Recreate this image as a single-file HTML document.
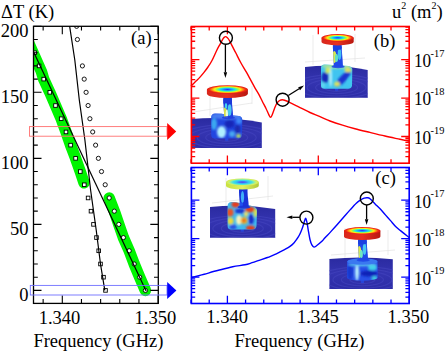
<!DOCTYPE html>
<html><head><meta charset="utf-8"><style>
html,body{margin:0;padding:0;background:#fff;width:446px;height:351px;overflow:hidden}
svg{display:block}
text{font-family:"Liberation Serif",serif;fill:#000}
</style></head><body>
<svg width="446" height="351" viewBox="0 0 446 351" font-family='"Liberation Serif", serif'><defs><radialGradient id="dRed" cx="0.5" cy="0.5" r="0.5"><stop offset="0" stop-color="#2a2aff"/><stop offset="0.22" stop-color="#1a9cff"/><stop offset="0.38" stop-color="#20e8e0"/><stop offset="0.52" stop-color="#90ff50"/><stop offset="0.64" stop-color="#ffee10"/><stop offset="0.76" stop-color="#ff8c10"/><stop offset="0.88" stop-color="#f02a14"/><stop offset="1" stop-color="#e01a14"/></radialGradient><radialGradient id="dYel" cx="0.5" cy="0.5" r="0.5"><stop offset="0" stop-color="#5444f0"/><stop offset="0.2" stop-color="#4474f8"/><stop offset="0.38" stop-color="#30c4f4"/><stop offset="0.58" stop-color="#44e2e0"/><stop offset="0.74" stop-color="#98f09c"/><stop offset="0.86" stop-color="#d4f060"/><stop offset="1" stop-color="#d0e44c"/></radialGradient><linearGradient id="rimRed" x1="0" y1="0" x2="1" y2="0"><stop offset="0" stop-color="#d8281c"/><stop offset="0.5" stop-color="#e83020"/><stop offset="1" stop-color="#b81810"/></linearGradient><linearGradient id="rimYel" x1="0" y1="0" x2="1" y2="0"><stop offset="0" stop-color="#c8e040"/><stop offset="0.5" stop-color="#e0f060"/><stop offset="1" stop-color="#b0c838"/></linearGradient><linearGradient id="gnd" x1="0" y1="0" x2="0" y2="1"><stop offset="0" stop-color="#2a2aa0"/><stop offset="0.5" stop-color="#3434b0"/><stop offset="1" stop-color="#2c2ca6"/></linearGradient><linearGradient id="stemA" x1="0" y1="0" x2="1" y2="0"><stop offset="0" stop-color="#1830d8"/><stop offset="0.45" stop-color="#40d8f0"/><stop offset="0.7" stop-color="#e8e840"/><stop offset="1" stop-color="#1a40e0"/></linearGradient><linearGradient id="stemB" x1="0" y1="0" x2="1" y2="0"><stop offset="0" stop-color="#1428c8"/><stop offset="0.5" stop-color="#2a70f8"/><stop offset="0.8" stop-color="#40c0ff"/><stop offset="1" stop-color="#1430d0"/></linearGradient><linearGradient id="baseA" x1="0" y1="0" x2="1" y2="1"><stop offset="0" stop-color="#2a50e8"/><stop offset="0.35" stop-color="#50c8f8"/><stop offset="0.55" stop-color="#2040d8"/><stop offset="0.8" stop-color="#60d0f0"/><stop offset="1" stop-color="#2038c8"/></linearGradient><linearGradient id="baseB" x1="0" y1="0" x2="1" y2="0.6"><stop offset="0" stop-color="#30a0f0"/><stop offset="0.3" stop-color="#2040d0"/><stop offset="0.5" stop-color="#70e0e0"/><stop offset="0.7" stop-color="#e0e050"/><stop offset="0.85" stop-color="#3050e0"/><stop offset="1" stop-color="#50c0f0"/></linearGradient><linearGradient id="baseC" x1="0" y1="0" x2="1" y2="0.4"><stop offset="0" stop-color="#e04020"/><stop offset="0.2" stop-color="#f0e040"/><stop offset="0.4" stop-color="#40a0f0"/><stop offset="0.55" stop-color="#f0d040"/><stop offset="0.7" stop-color="#2040e0"/><stop offset="0.85" stop-color="#e05020"/><stop offset="1" stop-color="#40c0f0"/></linearGradient><linearGradient id="baseD" x1="0" y1="0" x2="1" y2="0"><stop offset="0" stop-color="#1a30c8"/><stop offset="0.2" stop-color="#2050e8"/><stop offset="0.33" stop-color="#a0f0ff"/><stop offset="0.45" stop-color="#2860f0"/><stop offset="0.75" stop-color="#1838d8"/><stop offset="1" stop-color="#2a50d0"/></linearGradient><filter id="blr" x="-50%" y="-50%" width="200%" height="200%"><feGaussianBlur stdDeviation="1.2"/></filter><filter id="blr2" x="-50%" y="-50%" width="200%" height="200%"><feGaussianBlur stdDeviation="0.6"/></filter><clipPath id="ig1"><path d="M191.5,119.0 Q226.7,115.8 261.8,122.5 L261.8,148.0 L191.5,148.0 Z"/></clipPath><clipPath id="ib2"><path d="M211.2,117 Q211.5,113.5 215,113.5 L222,113.8 Q227,116.2 233,115.6 L239,116 Q242.3,116.5 242.3,120 L242,135 Q241.5,138.6 238,138.6 L215,138.6 Q211.2,138.6 211.2,135 Z"/></clipPath><clipPath id="is3"><path d="M223.4,97.0 C222.9,105.4 224.6,111.7 223.9,118.0 L233.0,118.0 C233.5,111.7 231.5,105.4 232.0,97.0 Z"/></clipPath><clipPath id="ig4"><path d="M305.0,67.0 Q336.4,63.5 367.7,70.0 L367.7,97.7 L305.0,97.7 Z"/></clipPath><clipPath id="ib5"><path d="M321,67.5 Q321.2,64.5 324.5,64.5 L348.5,66 Q352.3,66.5 352.3,69.5 L352,85.5 Q351.5,88.8 348,88.8 L324.5,88.8 Q321,88.8 321,85.5 Z"/></clipPath><clipPath id="is6"><path d="M333.0,43.5 C332.5,52.9 334.2,60.0 333.5,67.0 L342.8,67.0 C343.3,60.0 341.3,52.9 341.8,43.5 Z"/></clipPath><clipPath id="ig7"><path d="M210.0,207.0 Q242.6,203.6 275.2,209.0 L275.2,237.8 L210.0,237.8 Z"/></clipPath><clipPath id="ib8"><path d="M227.6,205.5 Q228,202 231.5,202 L236,202.2 Q244,203.5 252,206 Q257,207.2 257,210.5 L256.5,226 Q256,229.6 252,229.6 L231.5,229.6 Q227.6,229.6 227.6,226 Z"/></clipPath><clipPath id="is9"><path d="M239.1,189.0 C238.6,196.4 240.3,201.9 239.6,207.5 L248.6,207.5 C249.1,201.9 247.1,196.4 247.6,189.0 Z"/></clipPath><clipPath id="ig10"><path d="M329.4,259.0 Q361.1,255.7 392.8,259.2 L392.8,289.0 L329.4,289.0 Z"/></clipPath><clipPath id="ib11"><path d="M347.1,261.5 L347.1,277.6 A15.2,3.2 0 0 0 377.6,277.6 L377.6,261.5 A15.2,3.2 0 0 0 347.1,261.5 Z"/></clipPath><clipPath id="is12"><path d="M358.1,239.0 C357.6,247.6 359.3,254.1 358.6,260.5 L367.9,260.5 C368.4,254.1 366.4,247.6 366.9,239.0 Z"/></clipPath></defs><clipPath id="clipA"><rect x="33.50" y="26.30" width="124.80" height="277.10"/></clipPath><g clip-path="url(#clipA)"><polyline points="15.5,13.5 41.4,71.5 43.7,79.1 49.8,92.3 55.5,105.5 61.2,118.7 66.0,131.9 70.6,145.1 75.6,158.3 80.3,171.6 84.0,182.8" fill="none" stroke="#00f400" stroke-width="11.5" stroke-linecap="round" stroke-linejoin="round"/><polyline points="109.2,198.0 114.3,211.2 118.8,224.4 123.4,237.6 129.2,250.8 134.2,264.0 139.7,277.2 145.4,290.4" fill="none" stroke="#00f400" stroke-width="11.5" stroke-linecap="round" stroke-linejoin="round"/><rect x="32.80" y="50.91" width="3.6" height="3.6" fill="#fff" stroke="#000" stroke-width="0.9"/><rect x="37.30" y="64.11" width="3.6" height="3.6" fill="#fff" stroke="#000" stroke-width="0.9"/><rect x="41.90" y="77.32" width="3.6" height="3.6" fill="#fff" stroke="#000" stroke-width="0.9"/><rect x="48.00" y="90.52" width="3.6" height="3.6" fill="#fff" stroke="#000" stroke-width="0.9"/><rect x="53.70" y="103.73" width="3.6" height="3.6" fill="#fff" stroke="#000" stroke-width="0.9"/><rect x="59.40" y="116.93" width="3.6" height="3.6" fill="#fff" stroke="#000" stroke-width="0.9"/><rect x="64.20" y="130.14" width="3.6" height="3.6" fill="#fff" stroke="#000" stroke-width="0.9"/><rect x="68.80" y="143.34" width="3.6" height="3.6" fill="#fff" stroke="#000" stroke-width="0.9"/><rect x="73.80" y="156.55" width="3.6" height="3.6" fill="#fff" stroke="#000" stroke-width="0.9"/><rect x="78.50" y="169.75" width="3.6" height="3.6" fill="#fff" stroke="#000" stroke-width="0.9"/><rect x="82.50" y="182.96" width="3.6" height="3.6" fill="#fff" stroke="#000" stroke-width="0.9"/><rect x="86.30" y="196.16" width="3.6" height="3.6" fill="#fff" stroke="#000" stroke-width="0.9"/><rect x="89.20" y="209.37" width="3.6" height="3.6" fill="#fff" stroke="#000" stroke-width="0.9"/><rect x="91.70" y="222.57" width="3.6" height="3.6" fill="#fff" stroke="#000" stroke-width="0.9"/><rect x="94.70" y="235.78" width="3.6" height="3.6" fill="#fff" stroke="#000" stroke-width="0.9"/><rect x="96.90" y="248.98" width="3.6" height="3.6" fill="#fff" stroke="#000" stroke-width="0.9"/><rect x="98.70" y="262.19" width="3.6" height="3.6" fill="#fff" stroke="#000" stroke-width="0.9"/><rect x="101.70" y="275.39" width="3.6" height="3.6" fill="#fff" stroke="#000" stroke-width="0.9"/><rect x="103.70" y="288.60" width="3.6" height="3.6" fill="#fff" stroke="#000" stroke-width="0.9"/><circle cx="76.60" cy="26.30" r="2.1" fill="#fff" stroke="#000" stroke-width="0.9"/><circle cx="77.40" cy="39.50" r="2.1" fill="#fff" stroke="#000" stroke-width="0.9"/><circle cx="82.40" cy="65.91" r="2.1" fill="#fff" stroke="#000" stroke-width="0.9"/><circle cx="84.20" cy="79.12" r="2.1" fill="#fff" stroke="#000" stroke-width="0.9"/><circle cx="86.10" cy="92.32" r="2.1" fill="#fff" stroke="#000" stroke-width="0.9"/><circle cx="88.10" cy="105.53" r="2.1" fill="#fff" stroke="#000" stroke-width="0.9"/><circle cx="89.90" cy="118.73" r="2.1" fill="#fff" stroke="#000" stroke-width="0.9"/><circle cx="92.70" cy="131.94" r="2.1" fill="#fff" stroke="#000" stroke-width="0.9"/><circle cx="95.60" cy="145.14" r="2.1" fill="#fff" stroke="#000" stroke-width="0.9"/><circle cx="98.40" cy="158.35" r="2.1" fill="#fff" stroke="#000" stroke-width="0.9"/><circle cx="101.50" cy="171.55" r="2.1" fill="#fff" stroke="#000" stroke-width="0.9"/><circle cx="105.20" cy="184.76" r="2.1" fill="#fff" stroke="#000" stroke-width="0.9"/><circle cx="109.20" cy="197.96" r="2.1" fill="#fff" stroke="#000" stroke-width="0.9"/><circle cx="114.30" cy="211.17" r="2.1" fill="#fff" stroke="#000" stroke-width="0.9"/><circle cx="118.80" cy="224.37" r="2.1" fill="#fff" stroke="#000" stroke-width="0.9"/><circle cx="123.40" cy="237.58" r="2.1" fill="#fff" stroke="#000" stroke-width="0.9"/><circle cx="129.20" cy="250.78" r="2.1" fill="#fff" stroke="#000" stroke-width="0.9"/><circle cx="134.20" cy="263.99" r="2.1" fill="#fff" stroke="#000" stroke-width="0.9"/><circle cx="139.70" cy="277.19" r="2.1" fill="#fff" stroke="#000" stroke-width="0.9"/><circle cx="145.40" cy="290.40" r="2.1" fill="#fff" stroke="#000" stroke-width="0.9"/><line x1="20" y1="23" x2="146.1" y2="291.1" stroke="#000" stroke-width="1.2"/><polyline points="69.3,24 74.8,60 79.3,100 84.9,140 90.6,190 96.2,230 100.5,264 104.8,290.4" fill="none" stroke="#000" stroke-width="1.2"/></g><path d="M33.50,290.40h8.0M158.30,290.40h-8.0M33.50,277.19h4.3M158.30,277.19h-4.3M33.50,263.99h4.3M158.30,263.99h-4.3M33.50,250.78h4.3M158.30,250.78h-4.3M33.50,237.58h4.3M158.30,237.58h-4.3M33.50,224.37h8.0M158.30,224.37h-8.0M33.50,211.17h4.3M158.30,211.17h-4.3M33.50,197.96h4.3M158.30,197.96h-4.3M33.50,184.76h4.3M158.30,184.76h-4.3M33.50,171.55h4.3M158.30,171.55h-4.3M33.50,158.35h8.0M158.30,158.35h-8.0M33.50,145.14h4.3M158.30,145.14h-4.3M33.50,131.94h4.3M158.30,131.94h-4.3M33.50,118.73h4.3M158.30,118.73h-4.3M33.50,105.53h4.3M158.30,105.53h-4.3M33.50,92.32h8.0M158.30,92.32h-8.0M33.50,79.12h4.3M158.30,79.12h-4.3M33.50,65.91h4.3M158.30,65.91h-4.3M33.50,52.71h4.3M158.30,52.71h-4.3M33.50,39.50h4.3M158.30,39.50h-4.3M33.50,26.30h8.0M158.30,26.30h-8.0M43.14,303.40v-4.3M43.14,26.30v4.3M62.30,303.40v-8.0M62.30,26.30v8.0M81.46,303.40v-4.3M81.46,26.30v4.3M100.62,303.40v-4.3M100.62,26.30v4.3M119.78,303.40v-4.3M119.78,26.30v4.3M138.94,303.40v-4.3M138.94,26.30v4.3M158.10,303.40v-8.0M158.10,26.30v8.0" stroke="#000" stroke-width="1.1" fill="none"/><rect x="33.50" y="26.30" width="124.80" height="277.10" fill="none" stroke="#000" stroke-width="1.3"/><rect x="29.5" y="126.6" width="137.5" height="9.6" fill="none" stroke="#ff7070" stroke-width="0.9"/><rect x="30.3" y="285.4" width="136.7" height="9.6" fill="none" stroke="#7070ff" stroke-width="0.9"/><polygon points="167.2,123 167.2,140 176.2,131.5" fill="#f00"/><polygon points="167.2,282 167.2,299 176.4,290.5" fill="#00f"/><text x="1" y="17.6" font-size="18.5">&#916;T (K)</text><text x="28.6" y="36.70" font-size="18.5" text-anchor="end">200</text><text x="28.6" y="102.72" font-size="18.5" text-anchor="end">150</text><text x="28.6" y="168.75" font-size="18.5" text-anchor="end">100</text><text x="28.6" y="234.77" font-size="18.5" text-anchor="end">50</text><text x="28.6" y="300.80" font-size="18.5" text-anchor="end">0</text><text x="59.5" y="323.8" font-size="18.5" text-anchor="middle">1.340</text><text x="155.4" y="323.8" font-size="18.5" text-anchor="middle">1.350</text><text x="98.4" y="346.8" font-size="18.5" text-anchor="middle">Frequency (GHz)</text><text x="141.3" y="44.4" font-size="18.5" text-anchor="middle">(a)</text><g stroke="#e2e2e2" stroke-width="0.7" fill="none"><path d="M193,112 L252,103 M210,86 L210,116 M252,86 L252,104"/><path d="M305,62 L365,58 M313,35 L313,65 M355,34 L355,62"/><path d="M212,203 L273,196 M226,178 L226,206 M268,176 L268,200"/><path d="M331,255 L395,250 M345,228 L345,258 M388,230 L388,255"/></g><path d="M191.5,119.0 Q226.7,115.8 261.8,122.5 L261.8,148.0 L191.5,148.0 Z" fill="url(#gnd)"/><g clip-path="url(#ig1)"><ellipse cx="226.7" cy="137.6" rx="12.5" ry="3.8" fill="none" stroke="#4646c0" stroke-width="1.2" opacity="0.55"/><ellipse cx="226.7" cy="137.6" rx="21.0" ry="6.1" fill="none" stroke="#4646c0" stroke-width="1.2" opacity="0.55"/><ellipse cx="226.7" cy="137.6" rx="29.5" ry="8.4" fill="none" stroke="#4646c0" stroke-width="1.2" opacity="0.55"/><ellipse cx="226.7" cy="137.6" rx="38.0" ry="10.7" fill="none" stroke="#4646c0" stroke-width="1.2" opacity="0.55"/><ellipse cx="226.7" cy="137.6" rx="46.5" ry="13.0" fill="none" stroke="#4646c0" stroke-width="1.2" opacity="0.55"/></g><rect x="225.1" y="137.8" width="3.2" height="3" fill="#2844d8"/><g clip-path="url(#ib2)"><rect x="210.2" y="112.5" width="33.0" height="27.1" fill="#2246e0"/><g filter="url(#blr)"><ellipse cx="226.5" cy="116.0" rx="16.0" ry="3.2" fill="#4a7ef0"/><ellipse cx="214.0" cy="124.0" rx="3.0" ry="6.0" fill="#3aa8f0"/><ellipse cx="221.5" cy="132.0" rx="4.5" ry="6.0" fill="#b0f0ff"/><ellipse cx="229.5" cy="124.0" rx="5.0" ry="4.0" fill="#1628b8"/><ellipse cx="237.5" cy="129.0" rx="3.0" ry="4.0" fill="#1a2cb0"/><ellipse cx="239.0" cy="121.0" rx="3.0" ry="3.0" fill="#3c88f8"/><ellipse cx="238.5" cy="136.0" rx="2.5" ry="2.0" fill="#b8e060"/><ellipse cx="232.0" cy="134.0" rx="3.0" ry="3.0" fill="#4aa8f0"/></g></g><g clip-path="url(#is3)"><rect x="221.4" y="96.0" width="13.6" height="23.0" fill="#2040e0"/><g filter="url(#blr2)"><ellipse cx="224.6" cy="113.0" rx="2.6" ry="5.5" fill="#d8e048"/><ellipse cx="227.0" cy="114.0" rx="1.3" ry="4.5" fill="#e8ffd8"/><ellipse cx="229.6" cy="110.0" rx="2.0" ry="6.0" fill="#48c8f0"/><ellipse cx="227.5" cy="101.0" rx="6.0" ry="3.5" fill="#1a38d8"/><ellipse cx="226.0" cy="106.0" rx="1.2" ry="3.0" fill="#40d0f0"/></g></g><ellipse cx="228.4" cy="117.7" rx="6.5" ry="1.6" fill="#2040e0" opacity="0.9"/><path d="M206.9,89.5 L206.9,93.8 A20.5,4.3 0 0 0 247.9,93.8 L247.9,89.5 Z" fill="url(#rimRed)"/><ellipse cx="227.4" cy="89.5" rx="20.5" ry="4.3" fill="url(#dRed)"/><path d="M305.0,67.0 Q336.4,63.5 367.7,70.0 L367.7,97.7 L305.0,97.7 Z" fill="url(#gnd)"/><g clip-path="url(#ig4)"><ellipse cx="336.6" cy="87.6" rx="12.5" ry="3.8" fill="none" stroke="#4646c0" stroke-width="1.2" opacity="0.55"/><ellipse cx="336.6" cy="87.6" rx="21.0" ry="6.1" fill="none" stroke="#4646c0" stroke-width="1.2" opacity="0.55"/><ellipse cx="336.6" cy="87.6" rx="29.5" ry="8.4" fill="none" stroke="#4646c0" stroke-width="1.2" opacity="0.55"/><ellipse cx="336.6" cy="87.6" rx="38.0" ry="10.7" fill="none" stroke="#4646c0" stroke-width="1.2" opacity="0.55"/><ellipse cx="336.6" cy="87.6" rx="46.5" ry="13.0" fill="none" stroke="#4646c0" stroke-width="1.2" opacity="0.55"/></g><rect x="335.0" y="87.8" width="3.2" height="3" fill="#2844d8"/><g clip-path="url(#ib5)"><rect x="320.0" y="63.5" width="33.3" height="26.1" fill="#40c4f0"/><g filter="url(#blr)"><ellipse cx="336.5" cy="66.0" rx="15.0" ry="2.8" fill="#98e0a8"/><ellipse cx="325.0" cy="77.5" rx="3.6" ry="5.5" fill="#1426b8"/><ellipse cx="330.7" cy="77.0" rx="1.0" ry="10.0" fill="#d8fbff"/><ellipse cx="327.8" cy="70.5" rx="2.5" ry="3.0" fill="#d0e860"/><ellipse cx="343.2" cy="78.5" rx="3.3" ry="11.0" fill="#1a34d0" transform="rotate(42.0 343.2 78.5)"/><ellipse cx="348.0" cy="70.0" rx="3.5" ry="2.5" fill="#e0e060"/><ellipse cx="337.0" cy="84.0" rx="3.0" ry="2.5" fill="#d8e060"/><ellipse cx="323.0" cy="85.0" rx="2.0" ry="3.0" fill="#60d8f0"/><ellipse cx="350.5" cy="82.0" rx="2.0" ry="4.0" fill="#40c8f0"/></g></g><g clip-path="url(#is6)"><rect x="331.0" y="42.5" width="13.8" height="25.5" fill="#2048e8"/><g filter="url(#blr2)"><ellipse cx="334.3" cy="57.0" rx="2.2" ry="6.0" fill="#d8e850"/><ellipse cx="336.5" cy="58.0" rx="1.6" ry="4.0" fill="#60e0c0"/><ellipse cx="339.5" cy="54.0" rx="1.8" ry="6.0" fill="#40c0f0"/><ellipse cx="337.0" cy="47.5" rx="5.0" ry="2.5" fill="#1a40e0"/></g></g><ellipse cx="338.1" cy="66.7" rx="6.6" ry="1.6" fill="#2048e8" opacity="0.9"/><path d="M321.5,37.8 L321.5,41.7 A16.1,3.7 0 0 0 353.7,41.7 L353.7,37.8 Z" fill="url(#rimRed)"/><ellipse cx="337.6" cy="37.8" rx="16.1" ry="3.7" fill="url(#dRed)"/><path d="M210.0,207.0 Q242.6,203.6 275.2,209.0 L275.2,237.8 L210.0,237.8 Z" fill="url(#gnd)"/><g clip-path="url(#ig7)"><ellipse cx="242.3" cy="228.5" rx="12.5" ry="3.8" fill="none" stroke="#4646c0" stroke-width="1.2" opacity="0.55"/><ellipse cx="242.3" cy="228.5" rx="21.0" ry="6.1" fill="none" stroke="#4646c0" stroke-width="1.2" opacity="0.55"/><ellipse cx="242.3" cy="228.5" rx="29.5" ry="8.4" fill="none" stroke="#4646c0" stroke-width="1.2" opacity="0.55"/><ellipse cx="242.3" cy="228.5" rx="38.0" ry="10.7" fill="none" stroke="#4646c0" stroke-width="1.2" opacity="0.55"/><ellipse cx="242.3" cy="228.5" rx="46.5" ry="13.0" fill="none" stroke="#4646c0" stroke-width="1.2" opacity="0.55"/></g><rect x="240.7" y="228.7" width="3.2" height="3" fill="#2844d8"/><g clip-path="url(#ib8)"><rect x="226.7" y="201.5" width="31.2" height="29.0" fill="#40b8ee"/><g filter="url(#blr)"><ellipse cx="235.5" cy="204.5" rx="4.0" ry="3.0" fill="#e63a1c"/><ellipse cx="250.0" cy="209.5" rx="5.0" ry="3.0" fill="#e8401c"/><ellipse cx="230.0" cy="212.5" rx="3.5" ry="4.0" fill="#e85428"/><ellipse cx="230.5" cy="221.0" rx="3.0" ry="3.5" fill="#f0d838"/><ellipse cx="239.0" cy="220.0" rx="3.0" ry="5.0" fill="#f4f4c0"/><ellipse cx="244.0" cy="220.5" rx="3.5" ry="3.5" fill="#f0b028"/><ellipse cx="244.0" cy="220.5" rx="1.5" ry="1.5" fill="#e04020"/><ellipse cx="251.2" cy="219.2" rx="2.6" ry="5.0" fill="#1a2cc8"/><ellipse cx="250.5" cy="228.0" rx="4.5" ry="2.5" fill="#e43c1c"/><ellipse cx="240.0" cy="211.0" rx="5.0" ry="2.5" fill="#1838d0"/><ellipse cx="233.0" cy="227.0" rx="3.5" ry="2.5" fill="#2a50e0"/><ellipse cx="255.5" cy="213.0" rx="1.8" ry="4.0" fill="#e0e048"/><ellipse cx="246.0" cy="214.0" rx="2.0" ry="2.5" fill="#f0e060"/></g></g><g clip-path="url(#is9)"><rect x="237.1" y="188.0" width="13.5" height="20.5" fill="#1a34d8"/><g filter="url(#blr2)"><ellipse cx="242.5" cy="197.0" rx="1.6" ry="6.0" fill="#40b0f8"/><ellipse cx="241.0" cy="205.0" rx="2.0" ry="3.0" fill="#2050f0"/></g></g><ellipse cx="244.0" cy="207.2" rx="6.5" ry="1.6" fill="#1a34d8" opacity="0.9"/><path d="M226.0,182.2 L226.0,185.8 A16.4,3.8 0 0 0 258.8,185.8 L258.8,182.2 Z" fill="url(#rimYel)"/><ellipse cx="242.4" cy="182.2" rx="16.4" ry="3.8" fill="url(#dYel)"/><path d="M329.4,259.0 Q361.1,255.7 392.8,259.2 L392.8,289.0 L329.4,289.0 Z" fill="url(#gnd)"/><g clip-path="url(#ig10)"><ellipse cx="362.4" cy="279.8" rx="12.5" ry="3.8" fill="none" stroke="#4646c0" stroke-width="1.2" opacity="0.55"/><ellipse cx="362.4" cy="279.8" rx="21.0" ry="6.1" fill="none" stroke="#4646c0" stroke-width="1.2" opacity="0.55"/><ellipse cx="362.4" cy="279.8" rx="29.5" ry="8.4" fill="none" stroke="#4646c0" stroke-width="1.2" opacity="0.55"/><ellipse cx="362.4" cy="279.8" rx="38.0" ry="10.7" fill="none" stroke="#4646c0" stroke-width="1.2" opacity="0.55"/><ellipse cx="362.4" cy="279.8" rx="46.5" ry="13.0" fill="none" stroke="#4646c0" stroke-width="1.2" opacity="0.55"/></g><rect x="360.8" y="280.0" width="3.2" height="3" fill="#2844d8"/><g clip-path="url(#ib11)"><rect x="346.1" y="257.3" width="32.5" height="24.5" fill="#2850e8"/><g filter="url(#blr)"><ellipse cx="357.0" cy="272.0" rx="1.8" ry="9.0" fill="#c0f8ff"/><ellipse cx="369.0" cy="273.5" rx="9.0" ry="3.0" fill="#1020b8"/><ellipse cx="372.5" cy="267.5" rx="4.5" ry="3.0" fill="#40d0e8"/><ellipse cx="374.5" cy="278.5" rx="3.0" ry="2.5" fill="#40c8e0"/><ellipse cx="350.0" cy="272.0" rx="3.0" ry="8.0" fill="#1838d0"/><ellipse cx="362.3" cy="264.6" rx="14.5" ry="1.6" fill="#58c4f0"/></g><ellipse cx="362.4" cy="261.5" rx="15.2" ry="3.2" fill="#3a78f0"/></g><g clip-path="url(#is12)"><rect x="356.1" y="238.0" width="13.8" height="23.5" fill="#2048e8"/><g filter="url(#blr2)"><ellipse cx="359.3" cy="252.0" rx="2.0" ry="6.0" fill="#e0e850"/><ellipse cx="361.3" cy="254.0" rx="1.6" ry="4.0" fill="#70e8c0"/><ellipse cx="364.5" cy="249.0" rx="1.8" ry="6.0" fill="#48c8f0"/><ellipse cx="362.0" cy="242.0" rx="5.0" ry="2.5" fill="#1a40e0"/></g></g><ellipse cx="363.2" cy="260.2" rx="6.6" ry="1.6" fill="#2048e8" opacity="0.9"/><path d="M344.0,230.7 L344.0,236.5 A18.2,3.6 0 0 0 380.4,236.5 L380.4,230.7 Z" fill="url(#rimRed)"/><ellipse cx="362.2" cy="230.7" rx="18.2" ry="3.6" fill="url(#dRed)"/><path d="M191.04,163.20v-4.0M191.04,26.50v4.0M209.22,163.20v-4.0M209.22,26.50v4.0M227.40,163.20v-7.8M227.40,26.50v7.8M245.58,163.20v-4.0M245.58,26.50v4.0M263.76,163.20v-4.0M263.76,26.50v4.0M281.94,163.20v-4.0M281.94,26.50v4.0M300.12,163.20v-4.0M300.12,26.50v4.0M318.30,163.20v-7.8M318.30,26.50v7.8M336.48,163.20v-4.0M336.48,26.50v4.0M354.66,163.20v-4.0M354.66,26.50v4.0M372.84,163.20v-4.0M372.84,26.50v4.0M391.02,163.20v-4.0M391.02,26.50v4.0M409.20,163.20v-7.8M409.20,26.50v7.8M191.40,59.60h8.0M409.20,59.60h-8.0M191.40,48.03h3.8M409.20,48.03h-3.8M191.40,41.25h3.8M409.20,41.25h-3.8M191.40,36.45h3.8M409.20,36.45h-3.8M191.40,32.72h3.8M409.20,32.72h-3.8M191.40,29.68h3.8M409.20,29.68h-3.8M191.40,27.11h3.8M409.20,27.11h-3.8M191.40,98.05h8.0M409.20,98.05h-8.0M191.40,86.48h3.8M409.20,86.48h-3.8M191.40,79.70h3.8M409.20,79.70h-3.8M191.40,74.90h3.8M409.20,74.90h-3.8M191.40,71.17h3.8M409.20,71.17h-3.8M191.40,68.13h3.8M409.20,68.13h-3.8M191.40,65.56h3.8M409.20,65.56h-3.8M191.40,63.33h3.8M409.20,63.33h-3.8M191.40,61.36h3.8M409.20,61.36h-3.8M191.40,136.50h8.0M409.20,136.50h-8.0M191.40,124.93h3.8M409.20,124.93h-3.8M191.40,118.15h3.8M409.20,118.15h-3.8M191.40,113.35h3.8M409.20,113.35h-3.8M191.40,109.62h3.8M409.20,109.62h-3.8M191.40,106.58h3.8M409.20,106.58h-3.8M191.40,104.01h3.8M409.20,104.01h-3.8M191.40,101.78h3.8M409.20,101.78h-3.8M191.40,99.81h3.8M409.20,99.81h-3.8M191.40,156.60h3.8M409.20,156.60h-3.8M191.40,151.80h3.8M409.20,151.80h-3.8M191.40,148.07h3.8M409.20,148.07h-3.8M191.40,145.03h3.8M409.20,145.03h-3.8M191.40,142.46h3.8M409.20,142.46h-3.8M191.40,140.23h3.8M409.20,140.23h-3.8M191.40,138.26h3.8M409.20,138.26h-3.8" stroke="#ff0000" stroke-width="1.3" fill="none"/><rect x="191.40" y="26.50" width="217.80" height="136.70" fill="none" stroke="#ff0000" stroke-width="1.6"/><text transform="translate(413.9 67.00) scale(0.93 1)" font-size="18.5">10</text><text x="430.6" y="56.70" font-size="10.4">-17</text><text transform="translate(413.9 105.45) scale(0.93 1)" font-size="18.5">10</text><text x="430.6" y="95.15" font-size="10.4">-18</text><text transform="translate(413.9 143.90) scale(0.93 1)" font-size="18.5">10</text><text x="430.6" y="133.60" font-size="10.4">-19</text><path d="M191.04,303.50v-4.0M191.04,167.50v4.0M209.22,303.50v-4.0M209.22,167.50v4.0M227.40,303.50v-7.8M227.40,167.50v7.8M245.58,303.50v-4.0M245.58,167.50v4.0M263.76,303.50v-4.0M263.76,167.50v4.0M281.94,303.50v-4.0M281.94,167.50v4.0M300.12,303.50v-4.0M300.12,167.50v4.0M318.30,303.50v-7.8M318.30,167.50v7.8M336.48,303.50v-4.0M336.48,167.50v4.0M354.66,303.50v-4.0M354.66,167.50v4.0M372.84,303.50v-4.0M372.84,167.50v4.0M391.02,303.50v-4.0M391.02,167.50v4.0M409.20,303.50v-7.8M409.20,167.50v7.8M191.40,200.20h8.0M409.20,200.20h-8.0M191.40,188.63h3.8M409.20,188.63h-3.8M191.40,181.85h3.8M409.20,181.85h-3.8M191.40,177.05h3.8M409.20,177.05h-3.8M191.40,173.32h3.8M409.20,173.32h-3.8M191.40,170.28h3.8M409.20,170.28h-3.8M191.40,167.71h3.8M409.20,167.71h-3.8M191.40,238.65h8.0M409.20,238.65h-8.0M191.40,227.08h3.8M409.20,227.08h-3.8M191.40,220.30h3.8M409.20,220.30h-3.8M191.40,215.50h3.8M409.20,215.50h-3.8M191.40,211.77h3.8M409.20,211.77h-3.8M191.40,208.73h3.8M409.20,208.73h-3.8M191.40,206.16h3.8M409.20,206.16h-3.8M191.40,203.93h3.8M409.20,203.93h-3.8M191.40,201.96h3.8M409.20,201.96h-3.8M191.40,277.10h8.0M409.20,277.10h-8.0M191.40,265.53h3.8M409.20,265.53h-3.8M191.40,258.75h3.8M409.20,258.75h-3.8M191.40,253.95h3.8M409.20,253.95h-3.8M191.40,250.22h3.8M409.20,250.22h-3.8M191.40,247.18h3.8M409.20,247.18h-3.8M191.40,244.61h3.8M409.20,244.61h-3.8M191.40,242.38h3.8M409.20,242.38h-3.8M191.40,240.41h3.8M409.20,240.41h-3.8M191.40,297.20h3.8M409.20,297.20h-3.8M191.40,292.40h3.8M409.20,292.40h-3.8M191.40,288.67h3.8M409.20,288.67h-3.8M191.40,285.63h3.8M409.20,285.63h-3.8M191.40,283.06h3.8M409.20,283.06h-3.8M191.40,280.83h3.8M409.20,280.83h-3.8M191.40,278.86h3.8M409.20,278.86h-3.8" stroke="#0000ff" stroke-width="1.3" fill="none"/><rect x="191.40" y="167.50" width="217.80" height="136.00" fill="none" stroke="#0000ff" stroke-width="1.6"/><text transform="translate(413.9 207.60) scale(0.93 1)" font-size="18.5">10</text><text x="430.6" y="197.30" font-size="10.4">-17</text><text transform="translate(413.9 246.05) scale(0.93 1)" font-size="18.5">10</text><text x="430.6" y="235.75" font-size="10.4">-18</text><text transform="translate(413.9 284.50) scale(0.93 1)" font-size="18.5">10</text><text x="430.6" y="274.20" font-size="10.4">-19</text><path d="M191.00,86.00 C191.83,85.18 194.50,82.58 196.00,81.10 C197.50,79.62 198.67,78.55 200.00,77.10 C201.33,75.65 202.67,74.08 204.00,72.40 C205.33,70.72 206.67,68.98 208.00,67.00 C209.33,65.02 210.53,63.30 212.00,60.50 C213.47,57.70 215.42,52.98 216.80,50.20 C218.18,47.42 219.30,45.65 220.30,43.80 C221.30,41.95 222.10,40.22 222.80,39.10 C223.50,37.98 224.03,37.52 224.50,37.10 C224.97,36.68 225.17,36.55 225.60,36.60 C226.03,36.65 226.57,36.92 227.10,37.40 C227.63,37.88 228.17,38.50 228.80,39.50 C229.43,40.50 230.05,41.75 230.90,43.40 C231.75,45.05 233.05,47.75 233.90,49.40 C234.75,51.05 234.87,51.12 236.00,53.30 C237.13,55.48 238.97,59.35 240.70,62.50 C242.43,65.65 244.68,69.18 246.40,72.20 C248.12,75.22 249.53,77.92 251.00,80.60 C252.47,83.28 253.85,85.93 255.20,88.30 C256.55,90.67 257.88,92.57 259.10,94.80 C260.32,97.03 261.35,99.42 262.50,101.70 C263.65,103.98 264.95,106.35 266.00,108.50 C267.05,110.65 268.05,113.12 268.80,114.60 C269.55,116.08 269.93,117.37 270.50,117.40 C271.07,117.43 271.53,116.28 272.20,114.80 C272.87,113.32 273.73,110.40 274.50,108.50 C275.27,106.60 275.95,104.73 276.80,103.40 C277.65,102.07 278.65,101.12 279.60,100.50 C280.55,99.88 281.55,99.70 282.50,99.70 C283.45,99.70 284.05,100.02 285.30,100.50 C286.55,100.98 287.55,101.42 290.00,102.60 C292.45,103.78 296.67,105.95 300.00,107.60 C303.33,109.25 306.67,111.00 310.00,112.50 C313.33,114.00 316.67,115.18 320.00,116.60 C323.33,118.02 326.25,119.57 330.00,121.00 C333.75,122.43 338.33,123.92 342.50,125.20 C346.67,126.48 350.42,127.50 355.00,128.70 C359.58,129.90 365.00,131.18 370.00,132.40 C375.00,133.62 380.00,134.85 385.00,136.00 C390.00,137.15 395.92,138.40 400.00,139.30 C404.08,140.20 407.92,141.05 409.50,141.40" fill="none" stroke="#ff0000" stroke-width="1.4"/><path d="M191.00,277.60 C191.30,277.55 190.60,277.87 192.80,277.30 C195.00,276.73 199.92,275.37 204.20,274.20 C208.48,273.03 213.75,271.53 218.50,270.30 C223.25,269.07 228.28,267.72 232.70,266.80 C237.12,265.88 241.77,265.48 245.00,264.80 C248.23,264.12 249.73,263.45 252.10,262.70 C254.47,261.95 256.88,261.08 259.20,260.30 C261.52,259.52 264.20,258.62 266.00,258.00 C267.80,257.38 268.50,257.20 270.00,256.60 C271.50,256.00 273.33,255.18 275.00,254.40 C276.67,253.62 278.33,252.73 280.00,251.90 C281.67,251.07 283.33,250.32 285.00,249.40 C286.67,248.48 288.52,247.48 290.00,246.40 C291.48,245.32 292.75,244.13 293.90,242.90 C295.05,241.67 295.98,240.32 296.90,239.00 C297.82,237.68 298.65,236.42 299.40,235.00 C300.15,233.58 300.82,231.92 301.40,230.50 C301.98,229.08 302.43,227.88 302.90,226.50 C303.37,225.12 303.75,223.57 304.20,222.20 C304.65,220.83 305.15,218.32 305.60,218.30 C306.05,218.28 306.47,220.18 306.90,222.10 C307.33,224.02 307.67,226.82 308.20,229.80 C308.73,232.78 309.47,237.43 310.10,240.00 C310.73,242.57 311.35,244.02 312.00,245.20 C312.65,246.38 313.25,247.00 314.00,247.10 C314.75,247.20 315.23,246.72 316.50,245.80 C317.77,244.88 320.18,242.93 321.60,241.60 C323.02,240.27 323.38,239.55 325.00,237.80 C326.62,236.05 329.22,233.37 331.30,231.10 C333.38,228.83 335.42,226.55 337.50,224.20 C339.58,221.85 341.70,219.38 343.80,217.00 C345.90,214.62 348.02,212.18 350.10,209.90 C352.18,207.62 354.60,204.92 356.30,203.30 C358.00,201.68 358.98,201.05 360.30,200.20 C361.62,199.35 363.03,198.60 364.20,198.20 C365.37,197.80 366.33,197.72 367.30,197.80 C368.27,197.88 368.70,197.67 370.00,198.70 C371.30,199.73 373.38,202.27 375.10,204.00 C376.82,205.73 378.58,207.28 380.30,209.10 C382.02,210.92 383.70,212.98 385.40,214.90 C387.10,216.82 388.80,218.68 390.50,220.60 C392.20,222.52 393.88,224.68 395.60,226.40 C397.32,228.12 398.87,229.30 400.80,230.90 C402.73,232.50 405.75,234.88 407.20,236.00 C408.65,237.12 409.12,237.33 409.50,237.60" fill="none" stroke="#0000ff" stroke-width="1.4"/><text x="384.6" y="47.2" font-size="18.5" text-anchor="middle">(b)</text><text x="385.6" y="184.2" font-size="18.5" text-anchor="middle">(c)</text><text x="392" y="18.2" font-size="18.5">u<tspan dy="-9.2" font-size="10">2</tspan><tspan dy="9.2"> (m</tspan><tspan dy="-9.2" font-size="10">2</tspan><tspan dy="9.2">)</tspan></text><text x="227.10" y="322.9" font-size="18.5" text-anchor="middle">1.340</text><text x="317.90" y="322.9" font-size="18.5" text-anchor="middle">1.345</text><text x="408.40" y="322.9" font-size="18.5" text-anchor="middle">1.350</text><text x="299.5" y="346.8" font-size="18.5" text-anchor="middle">Frequency (GHz)</text><circle cx="225.90" cy="37.80" r="6.5" fill="none" stroke="#000" stroke-width="1.4"/><line x1="225.40" y1="44.30" x2="225.40" y2="72.20" stroke="#000" stroke-width="1.3"/><polygon points="225.40,78.00 223.65,72.20 227.15,72.20" fill="#000"/><circle cx="282.60" cy="99.70" r="6.5" fill="none" stroke="#000" stroke-width="1.4"/><line x1="288.30" y1="95.50" x2="299.09" y2="88.69" stroke="#000" stroke-width="1.3"/><polygon points="304.00,85.60 300.03,90.17 298.16,87.21" fill="#000"/><circle cx="306.40" cy="217.60" r="6.5" fill="none" stroke="#000" stroke-width="1.4"/><line x1="299.90" y1="217.30" x2="292.30" y2="217.30" stroke="#000" stroke-width="1.3"/><polygon points="286.50,217.30 292.30,215.55 292.30,219.05" fill="#000"/><circle cx="366.80" cy="198.50" r="6.5" fill="none" stroke="#000" stroke-width="1.4"/><line x1="366.60" y1="205.00" x2="366.60" y2="219.20" stroke="#000" stroke-width="1.3"/><polygon points="366.60,225.00 364.85,219.20 368.35,219.20" fill="#000"/></svg>
</body></html>
